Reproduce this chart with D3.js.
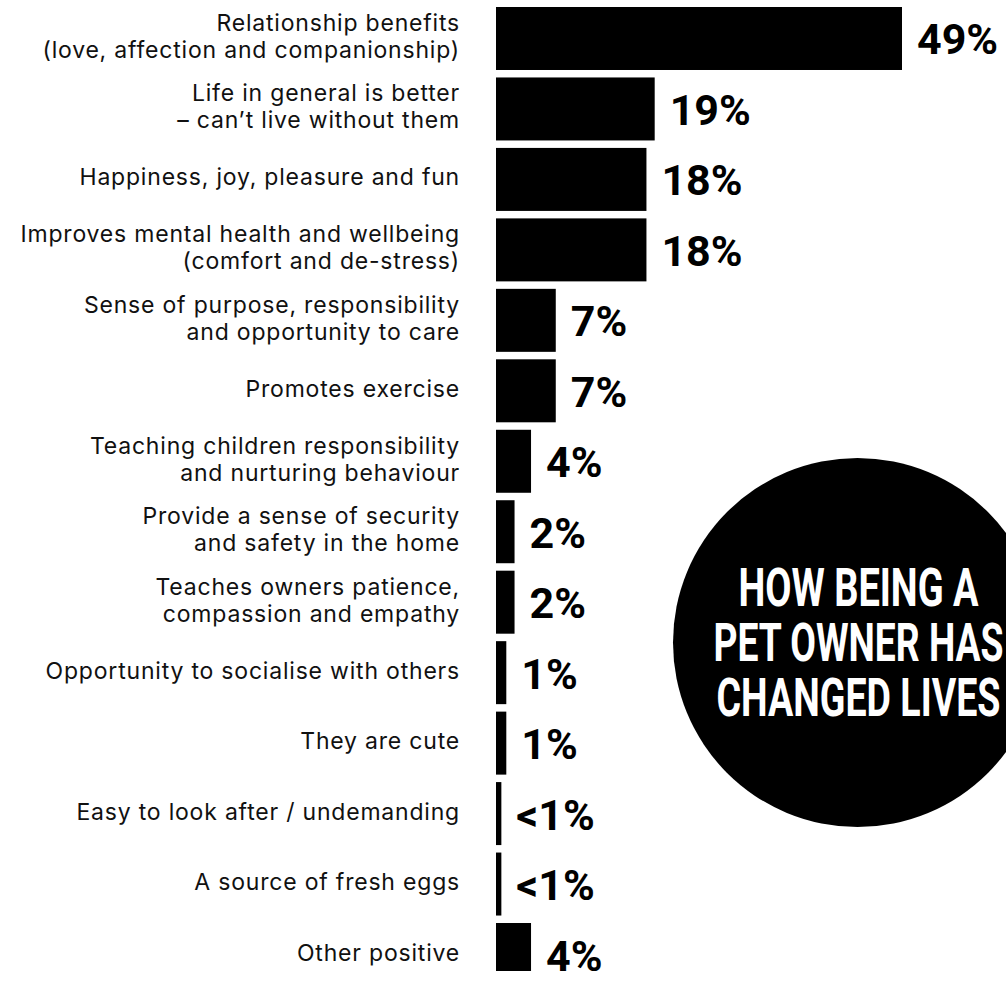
<!DOCTYPE html>
<html>
<head>
<meta charset="utf-8">
<script src="https://cdn.jsdelivr.net/npm/d3@7"></script>
<style>
  body { margin: 0; background: #fff; }
  svg { display: block; }
</style>
</head>
<body>
<div id="graph"></div>
<script>
// reasons given, top to bottom
var categories = [
    ["Relationship benefits", "(love, affection and companionship)"],
    ["Life in general is better", "\u2013 can\u2019t live without them"],
    ["Happiness, joy, pleasure and fun"],
    ["Improves mental health and wellbeing", "(comfort and de-stress)"],
    ["Sense of purpose, responsibility", "and opportunity to care"],
    ["Promotes exercise"],
    ["Teaching children responsibility", "and nurturing behaviour"],
    ["Provide a sense of security", "and safety in the home"],
    ["Teaches owners patience,", "compassion and empathy"],
    ["Opportunity to socialise with others"],
    ["They are cute"],
    ["Easy to look after / undemanding"],
    ["A source of fresh eggs"],
    ["Other positive"]
];
var values = [49, 19, 18, 18, 7, 7, 4, 2, 2, 1, 1, 0.4, 0.4, 4];
var valueLabels = ["49%", "19%", "18%", "18%", "7%", "7%", "4%", "2%", "2%", "1%", "1%", "<1%", "<1%", "4%"];
var titleLines = ["HOW BEING A", "PET OWNER HAS", "CHANGED LIVES"];

var width = 1006,
    height = 971;

var svg = d3.select("#graph").append("svg")
    .attr("width", width)
    .attr("height", height);

var idx = d3.range(categories.length);

var y = d3.scaleBand()
    .domain(idx)
    .range([7, 986])
    .paddingInner(0.106)
    .paddingOuter(0);

var x = d3.scaleLinear()
    .domain([-0.25, 49])
    .range([496, 902]);

// bars
svg.selectAll("rect.bar")
    .data(idx)
    .enter().append("rect")
    .attr("class", "bar")
    .attr("x", x(-0.25))
    .attr("y", function(i) { return y(i); })
    .attr("width", function(i) { return x(values[i]) - x(-0.25); })
    .attr("height", y.bandwidth())
    .attr("fill", "#000");

// value labels
svg.selectAll("text.val")
    .data(idx)
    .enter().append("text")
    .attr("class", "val")
    .attr("x", function(i) { return x(values[i]) + 15; })
    .attr("y", function(i) { return y(i) + y.bandwidth() / 2 + 16; })
    .attr("font-family", "Roboto, sans-serif")
    .attr("font-weight", 700)
    .attr("font-size", "43px")
    .attr("fill", "#000")
    .text(function(i) { return valueLabels[i]; });

// category labels
var lineH = 27;
var cat = svg.selectAll("text.cat")
    .data(idx)
    .enter().append("text")
    .attr("class", "cat")
    .attr("text-anchor", "end")
    .attr("font-family", "Inter, sans-serif")
    .attr("font-size", "23px")
    .attr("letter-spacing", "0.8px")
    .attr("fill", "#111");

cat.each(function(i) {
    var lines = categories[i];
    var cy = y(i) + y.bandwidth() / 2;
    var t = d3.select(this);
    lines.forEach(function(l, k) {
        t.append("tspan")
            .attr("x", 460)
            .attr("y", cy + (k - (lines.length - 1) / 2) * lineH + 6)
            .text(l);
    });
});

// title badge
var cx = 857.5, cyc = 642.5, r = 184.5;
svg.append("circle")
    .attr("cx", cx)
    .attr("cy", cyc)
    .attr("r", r)
    .attr("fill", "#000");

var titleWidths = [240, 290, 284];
svg.selectAll("text.title")
    .data(titleLines)
    .enter().append("text")
    .attr("class", "title")
    .attr("x", cx + 1)
    .attr("y", function(d, k) { return 606 + k * 55; })
    .attr("text-anchor", "middle")
    .attr("font-family", "Roboto, sans-serif")
    .attr("font-weight", 700)
    .attr("font-size", "53px")
    .attr("textLength", function(d, k) { return titleWidths[k]; })
    .attr("lengthAdjust", "spacingAndGlyphs")
    .attr("fill", "#fff")
    .text(function(d) { return d; });
</script>
</body>
</html>
